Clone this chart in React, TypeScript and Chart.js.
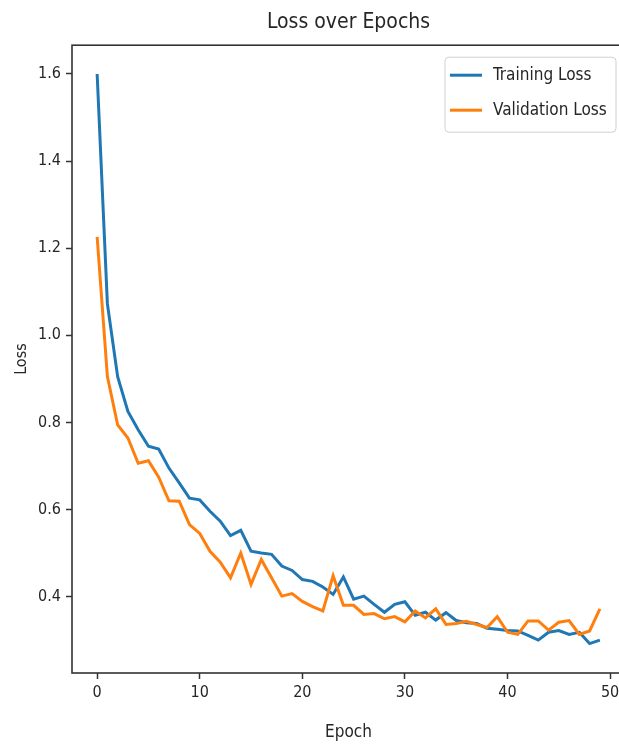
import React, { useEffect, useRef } from "react";
import { Chart, registerables } from "chart.js";

Chart.register(...registerables);

const epochs = [0,1,2,3,4,5,6,7,8,9,10,11,12,13,14,15,16,17,18,19,20,21,22,23,24,25,26,27,28,29,30,31,32,33,34,35,36,37,38,39,40,41,42,43,44,45,46,47,48,49];

const trainLoss = [1.600,1.072,0.905,0.825,0.783,0.745,0.739,0.695,0.661,0.626,0.622,0.596,0.573,0.540,0.552,0.504,0.500,0.497,0.470,0.460,0.439,0.435,0.422,0.405,0.445,0.394,0.401,0.382,0.364,0.382,0.388,0.357,0.364,0.346,0.363,0.345,0.340,0.338,0.327,0.325,0.322,0.321,0.311,0.300,0.318,0.322,0.313,0.318,0.292,0.300];

const valLoss = [1.226,0.905,0.794,0.764,0.706,0.712,0.674,0.620,0.619,0.565,0.545,0.504,0.479,0.443,0.500,0.428,0.485,0.443,0.401,0.407,0.389,0.377,0.367,0.448,0.380,0.380,0.359,0.361,0.349,0.354,0.342,0.367,0.351,0.372,0.336,0.338,0.343,0.336,0.329,0.354,0.318,0.313,0.344,0.344,0.323,0.341,0.345,0.313,0.321,0.372];

const xTicks = [0, 10, 20, 30, 40, 50];
const yTicks = [0.4, 0.6, 0.8, 1.0, 1.2, 1.4, 1.6];

const seriesNames = ["Training Loss", "Validation Loss"];
const seriesColors = ["#1f77b4", "#ff7f0e"];

const FONT = "'DejaVu Sans Condensed', 'Liberation Sans Narrow', 'DejaVu Sans', sans-serif";
const TEXT = "#262626";

const framePlugin = {
  id: "frame",
  afterDraw(chart: any) {
    const { ctx, chartArea } = chart;
    ctx.save();
    ctx.strokeStyle = "#333";
    ctx.lineWidth = 1.6;
    ctx.strokeRect(chartArea.left, chartArea.top, chartArea.right - chartArea.left, chartArea.bottom - chartArea.top);
    ctx.restore();

    // legend inside upper right
    const boxRight = chartArea.right - 9;
    const boxW = 171;
    const boxH = 75;
    const bx = boxRight - boxW;
    const by = chartArea.top + 12;
    ctx.save();
    ctx.beginPath();
    if ((ctx as any).roundRect) (ctx as any).roundRect(bx, by, boxW, boxH, 4);
    else ctx.rect(bx, by, boxW, boxH);
    ctx.fillStyle = "rgba(255,255,255,0.85)";
    ctx.fill();
    ctx.strokeStyle = "#d0d0d0";
    ctx.lineWidth = 1;
    ctx.stroke();
    ctx.font = `17px ${FONT}`;
    ctx.textBaseline = "middle";
    ctx.textAlign = "left";
    seriesNames.forEach((name, i) => {
      const cy = by + 18 + i * 35;
      ctx.strokeStyle = seriesColors[i];
      ctx.lineWidth = 3;
      ctx.beginPath();
      ctx.moveTo(bx + 5, cy);
      ctx.lineTo(bx + 37, cy);
      ctx.stroke();
      ctx.fillStyle = TEXT;
      ctx.fillText(name, bx + 48, cy);
    });
    ctx.restore();
  },
};

export default function App() {
  const ref = useRef<HTMLCanvasElement | null>(null);

  useEffect(() => {
    if (!ref.current) return;
    const chart = new Chart(ref.current, {
      type: "line",
      data: {
        datasets: [
          {
            label: seriesNames[0],
            data: trainLoss.map((v, i) => ({ x: epochs[i], y: v })),
            borderColor: seriesColors[0],
            backgroundColor: seriesColors[0],
            borderWidth: 3,
            pointRadius: 0,
            tension: 0,
            order: 1,
          },
          {
            label: seriesNames[1],
            data: valLoss.map((v, i) => ({ x: epochs[i], y: v })),
            borderColor: seriesColors[1],
            backgroundColor: seriesColors[1],
            borderWidth: 3,
            pointRadius: 0,
            tension: 0,
            order: 0,
          },
        ],
      },
      options: {
        animation: false,
        responsive: false,
        devicePixelRatio: 1,
        layout: { padding: { left: 0, right: 5, top: 0, bottom: 0 } },
        plugins: {
          legend: { display: false },
          tooltip: { enabled: false },
          title: {
            display: true,
            text: "Loss over Epochs",
            fullSize: false,
            color: TEXT,
            font: { family: FONT, size: 21, weight: "normal" },
            padding: { top: 10, bottom: 10 },
          },
        },
        scales: {
          x: {
            type: "linear",
            min: -2.45,
            max: 51.45,
            afterFit: (s: any) => {
              s.height = 74;
            },
            afterBuildTicks: (s: any) => {
              s.ticks = xTicks.map((v) => ({ value: v }));
            },
            ticks: {
              color: TEXT,
              font: { family: FONT, size: 16 },
              padding: 4,
              maxRotation: 0,
              autoSkip: false,
            },
            grid: {
              display: true,
              drawOnChartArea: false,
              drawTicks: true,
              tickLength: 6,
              tickWidth: 1.5,
              tickColor: "#333",
            },
            border: { display: false },
            title: {
              display: true,
              text: "Epoch",
              color: TEXT,
              font: { family: FONT, size: 17 },
              padding: { top: 0, bottom: 4 },
            },
          },
          y: {
            type: "linear",
            min: 0.2245,
            max: 1.666,
            afterFit: (s: any) => {
              s.width = 72;
            },
            afterBuildTicks: (s: any) => {
              s.ticks = yTicks.map((v) => ({ value: v }));
            },
            ticks: {
              color: TEXT,
              font: { family: FONT, size: 16 },
              padding: 5,
              autoSkip: false,
              callback: (v: any) => Number(v).toFixed(1),
            },
            grid: {
              display: true,
              drawOnChartArea: false,
              drawTicks: true,
              tickLength: 6,
              tickWidth: 1.5,
              tickColor: "#333",
            },
            border: { display: false },
            title: {
              display: true,
              text: "Loss",
              color: TEXT,
              font: { family: FONT, size: 16 },
              padding: { top: 12, bottom: 0 },
            },
          },
        },
      },
      plugins: [framePlugin],
    } as any);
    return () => chart.destroy();
  }, []);

  return (
    <div style={{ position: "fixed", left: 0, top: 0, width: 619, height: 747, overflow: "hidden", background: "#fff" }}>
      <canvas ref={ref} width={630} height={747} style={{ width: 630, height: 747, display: "block" }} />
    </div>
  );
}
